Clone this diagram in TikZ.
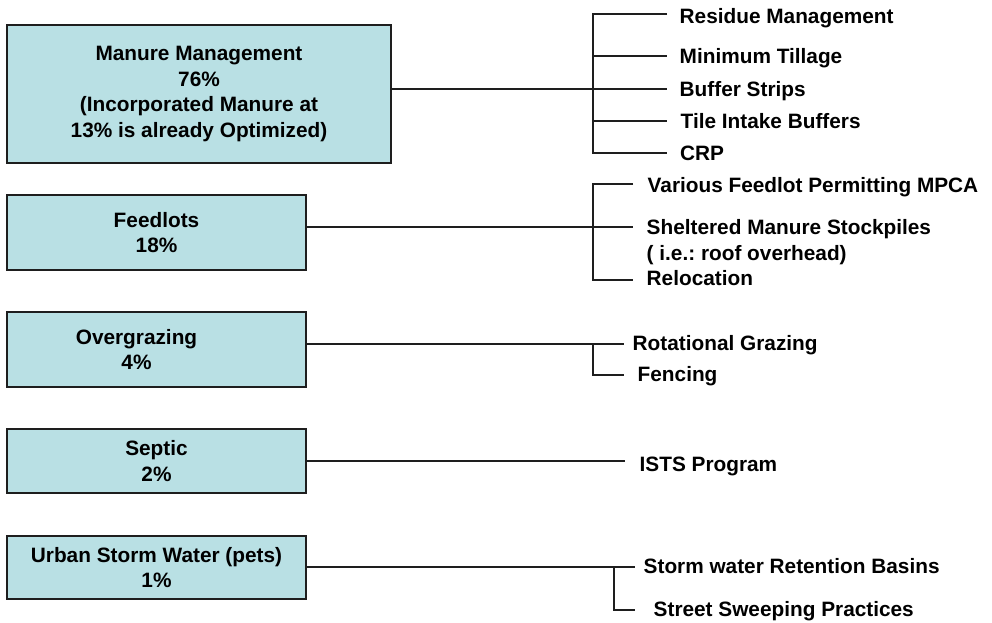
\documentclass[tikz,border=0pt]{standalone}
\usepackage{fontspec}
\setmainfont{Liberation Sans}
\frenchspacing
\definecolor{boxfill}{RGB}{185,224,228}
\definecolor{edge}{RGB}{30,30,30}
\begin{document}
\begin{tikzpicture}[x=1pt,y=-1pt,
  lbl/.style={font=\bfseries\fontsize{20.8}{25.6}\selectfont},
  srcbox/.style={lbl, draw=edge, line width=1.3pt, fill=boxfill, align=center, inner sep=0pt},
  leaf/.style={lbl, anchor=base west, inner sep=0pt},
  conn/.style={draw=edge, line width=1.2pt}]
\useasboundingbox (0,0) rectangle (992,622);

% source boxes
\node[srcbox, minimum width=384pt, minimum height=138pt] (mm) at (199,94)
  {Manure Management\\76\%\\(Incorporated Manure at\\13\% is already Optimized)};
\node[srcbox, minimum width=299pt, minimum height=75pt] (fl) at (156.5,232.5)
  {Feedlots\\18\%};
\node[srcbox, minimum width=299pt, minimum height=75pt] (og) at (156.5,349.5)
  {Overgrazing\hspace*{40pt}\\4\%\hspace*{40pt}};
\node[srcbox, minimum width=299pt, minimum height=64pt] (sp) at (156.5,461)
  {Septic\\2\%};
\node[srcbox, minimum width=299pt, minimum height=63pt] (us) at (156.5,567.5)
  {Urban Storm Water (pets)\\1\%};

% manure management branches
\coordinate (mt) at (593,14);
\coordinate (mb) at (593,153);
\coordinate (m1) at (667,14);
\coordinate (m2) at (667,56);
\coordinate (m3) at (667,89);
\coordinate (m4) at (667,121);
\coordinate (m5) at (667,153);
\draw[conn] (m3 -| mm.east) -- (m3);
\draw[conn] (m1) -- (mt) -- (mb) -- (m5);
\draw[conn] (mt |- m2) -- (m2);
\draw[conn] (mt |- m4) -- (m4);
\node[leaf] (r1) at (679.5,23) {Residue Management};
\node[leaf] (r2) at (679.5,63.5) {Minimum Tillage};
\node[leaf] (r3) at (679.5,96) {Buffer Strips};
\node[leaf] (r4) at (680.5,128) {Tile Intake Buffers};
\node[leaf] (r5) at (680,160) {CRP};

% feedlots branches
\coordinate (ft) at (593,184);
\coordinate (fb) at (593,280);
\coordinate (f1) at (633,184);
\coordinate (f2) at (633,227);
\coordinate (f3) at (633,280);
\draw[conn] (f2 -| fl.east) -- (f2);
\draw[conn] (f1) -- (ft) -- (fb) -- (f3);
\node[leaf] (s1) at (647.5,192) {Various Feedlot Permitting MPCA};
\node[leaf] (s2) at (646.5,234) {Sheltered Manure Stockpiles};
\node[leaf] (s2b) at (646.5,260.5) {( i.e.: roof overhead)};
\node[leaf] (s3) at (646.5,285) {Relocation};

% overgrazing branches
\coordinate (ot) at (593,344);
\coordinate (o1) at (624,344);
\coordinate (o2) at (624,375);
\draw[conn] (o1 -| og.east) -- (o1);
\draw[conn] (ot) |- (o2);
\node[leaf] (g1) at (632.5,350) {Rotational Grazing};
\node[leaf] (g2) at (637.5,381.5) {Fencing};

% septic branch
\coordinate (p1) at (625,461);
\draw[conn] (p1 -| sp.east) -- (p1);
\node[leaf] (i1) at (639.5,471) {ISTS Program};

% urban storm water branches
\coordinate (ut) at (614,567);
\coordinate (u1) at (635,567);
\coordinate (u2) at (635,610);
\draw[conn] (u1 -| us.east) -- (u1);
\draw[conn] (ut) |- (u2);
\node[leaf] (w1) at (643.5,573) {Storm water Retention Basins};
\node[leaf] (w2) at (653.5,616) {Street Sweeping Practices};
\end{tikzpicture}
\end{document}
